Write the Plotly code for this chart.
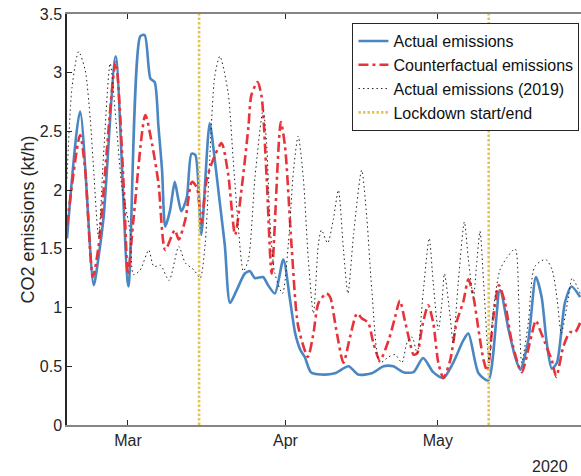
import plotly.graph_objects as go

# ---- data ----
actual_dates = [
    "2020-02-18 00:00", "2020-02-20 14:00", "2020-02-23 06:00", "2020-02-24 05:00", "2020-02-25 05:00",
    "2020-02-27 14:00", "2020-03-01 02:00", "2020-03-03 10:00", "2020-03-04 07:00", "2020-03-05 10:00",
    "2020-03-06 06:00", "2020-03-07 00:00", "2020-03-07 17:00", "2020-03-08 08:00", "2020-03-09 07:00",
    "2020-03-10 05:00", "2020-03-10 20:00", "2020-03-11 12:00", "2020-03-12 14:00", "2020-03-13 12:00",
    "2020-03-14 06:00", "2020-03-15 10:00", "2020-03-17 02:00", "2020-03-18 02:00", "2020-03-19 02:00",
    "2020-03-20 02:00", "2020-03-21 02:00", "2020-03-22 10:00", "2020-03-24 00:00", "2020-03-25 00:00",
    "2020-03-26 00:00", "2020-03-27 14:00", "2020-03-28 14:00", "2020-03-29 22:00", "2020-03-31 14:00",
    "2020-04-01 22:00", "2020-04-02 22:00", "2020-04-03 22:00", "2020-04-04 19:00", "2020-04-06 00:00",
    "2020-04-08 00:00", "2020-04-10 17:00", "2020-04-13 10:00", "2020-04-15 07:00", "2020-04-18 00:00",
    "2020-04-20 07:00", "2020-04-22 05:00", "2020-04-24 05:00", "2020-04-26 05:00", "2020-04-28 02:00",
    "2020-04-30 02:00", "2020-05-02 02:00", "2020-05-04 00:00", "2020-05-06 00:00", "2020-05-07 00:00",
    "2020-05-09 00:00", "2020-05-10 22:00", "2020-05-13 05:00", "2020-05-14 22:00", "2020-05-16 05:00",
    "2020-05-17 05:00", "2020-05-18 19:00", "2020-05-20 07:00", "2020-05-21 10:00", "2020-05-22 10:00",
    "2020-05-23 10:00", "2020-05-24 10:00", "2020-05-26 00:00", "2020-05-27 07:00", "2020-05-29 00:00",
]
actual_values = [
    1.59, 2.67, 1.19, 1.43, 1.77,
    3.14, 1.18, 3.31, 3.32, 2.95,
    2.92, 2.54, 2.17, 1.69, 1.83,
    2.07, 1.94, 1.82, 1.94, 2.31,
    2.30, 1.62, 2.57, 2.26, 1.89,
    1.52, 1.04, 1.15, 1.29, 1.31,
    1.25, 1.26, 1.19, 1.12, 1.41,
    1.06, 0.78, 0.64, 0.58, 0.45,
    0.43, 0.44, 0.50, 0.43, 0.44,
    0.50, 0.50, 0.45, 0.45, 0.57,
    0.45, 0.40, 0.53, 0.72, 0.78,
    0.44, 0.38, 1.15, 0.81, 0.58,
    0.47, 0.72, 1.26, 1.09, 0.70,
    0.48, 0.53, 1.04, 1.18, 1.09,
]

counter_dates = [
    "2020-02-18 00:00", "2020-02-20 14:00", "2020-02-21 14:00", "2020-02-23 02:00", "2020-02-24 05:00",
    "2020-02-27 14:00", "2020-02-29 04:00", "2020-03-01 00:00", "2020-03-02 02:00", "2020-03-04 10:00",
    "2020-03-05 17:00", "2020-03-07 00:00", "2020-03-08 08:00", "2020-03-10 05:00", "2020-03-11 00:00",
    "2020-03-12 07:00", "2020-03-13 14:00", "2020-03-14 14:00", "2020-03-15 10:00", "2020-03-16 12:00",
    "2020-03-17 12:00", "2020-03-19 10:00", "2020-03-20 17:00", "2020-03-22 02:00", "2020-03-23 10:00",
    "2020-03-24 17:00", "2020-03-25 07:00", "2020-03-26 12:00", "2020-03-27 07:00", "2020-03-28 07:00",
    "2020-03-29 07:00", "2020-03-31 02:00", "2020-03-31 22:00", "2020-04-02 05:00", "2020-04-03 12:00",
    "2020-04-05 10:00", "2020-04-06 12:00", "2020-04-07 12:00", "2020-04-09 02:00", "2020-04-09 19:00",
    "2020-04-11 00:00", "2020-04-12 10:00", "2020-04-13 17:00", "2020-04-15 02:00", "2020-04-16 00:00",
    "2020-04-17 07:00", "2020-04-18 07:00", "2020-04-19 14:00", "2020-04-21 07:00", "2020-04-22 14:00",
    "2020-04-23 12:00", "2020-04-24 12:00", "2020-04-25 12:00", "2020-04-26 05:00", "2020-04-26 22:00",
    "2020-04-27 22:00", "2020-04-29 02:00", "2020-04-30 02:00", "2020-05-01 02:00", "2020-05-02 02:00",
    "2020-05-03 10:00", "2020-05-04 17:00", "2020-05-06 00:00", "2020-05-07 00:00", "2020-05-08 00:00",
    "2020-05-09 00:00", "2020-05-10 00:00", "2020-05-10 17:00", "2020-05-11 22:00", "2020-05-13 00:00",
    "2020-05-14 05:00", "2020-05-15 12:00", "2020-05-17 12:00", "2020-05-19 02:00", "2020-05-20 07:00",
    "2020-05-21 02:00", "2020-05-22 02:00", "2020-05-23 10:00", "2020-05-24 07:00", "2020-05-25 17:00",
    "2020-05-27 00:00", "2020-05-28 00:00", "2020-05-29 00:00",
]
counter_values = [
    1.70, 2.47, 2.17, 1.26, 1.52,
    3.09, 2.03, 1.28, 1.75, 2.64,
    2.40, 2.06, 1.49, 1.66, 1.58,
    1.75, 2.07, 2.02, 1.72, 2.09,
    2.23, 2.40, 2.14, 1.62, 2.03,
    2.54, 2.81, 2.92, 2.80, 2.11,
    1.29, 2.58, 2.37, 1.52, 0.84,
    0.58, 0.78, 1.04, 1.12, 1.09,
    0.81, 0.53, 0.75, 0.95, 0.91,
    0.87, 0.70, 0.55, 0.72, 0.92,
    1.06, 0.89, 0.70, 0.60, 0.61,
    0.84, 1.02, 0.87, 0.53, 0.40,
    0.55, 0.88, 1.05, 1.24, 1.09,
    0.81, 0.55, 0.46, 0.92, 1.19,
    1.04, 0.72, 0.45, 0.70, 0.89,
    0.81, 0.70, 0.55, 0.41, 0.67,
    0.79, 0.79, 0.87,
]

y2019_dates = [
    "2020-02-18 00:00", "2020-02-19 00:00", "2020-02-20 07:00", "2020-02-21 14:00", "2020-02-22 14:00",
    "2020-02-23 06:00", "2020-02-24 05:00", "2020-02-25 05:00", "2020-02-26 12:00", "2020-02-27 19:00",
    "2020-02-28 19:00", "2020-02-29 19:00", "2020-03-01 11:00", "2020-03-02 02:00", "2020-03-03 10:00",
    "2020-03-05 02:00", "2020-03-06 02:00", "2020-03-07 10:00", "2020-03-09 02:00", "2020-03-11 00:00",
    "2020-03-12 07:00", "2020-03-14 00:00", "2020-03-15 05:00", "2020-03-16 05:00", "2020-03-17 02:00",
    "2020-03-18 02:00", "2020-03-19 02:00", "2020-03-20 17:00", "2020-03-21 17:00", "2020-03-22 17:00",
    "2020-03-23 17:00", "2020-03-24 17:00", "2020-03-26 00:00", "2020-03-27 14:00", "2020-03-28 07:00",
    "2020-03-29 00:00", "2020-03-29 22:00", "2020-03-31 10:00", "2020-04-01 14:00", "2020-04-02 14:00",
    "2020-04-03 12:00", "2020-04-04 12:00", "2020-04-05 12:00", "2020-04-06 12:00", "2020-04-07 12:00",
    "2020-04-08 02:00", "2020-04-09 07:00", "2020-04-10 10:00", "2020-04-11 10:00", "2020-04-12 10:00",
    "2020-04-13 07:00", "2020-04-14 10:00", "2020-04-16 00:00", "2020-04-17 00:00", "2020-04-18 00:00",
    "2020-04-19 14:00", "2020-04-21 07:00", "2020-04-22 14:00", "2020-04-23 22:00", "2020-04-24 22:00",
    "2020-04-25 22:00", "2020-04-26 22:00", "2020-04-28 02:00", "2020-04-29 07:00", "2020-04-30 02:00",
    "2020-05-01 02:00", "2020-05-01 19:00", "2020-05-02 07:00", "2020-05-03 10:00", "2020-05-04 00:00",
    "2020-05-05 00:00", "2020-05-06 05:00", "2020-05-07 00:00", "2020-05-08 00:00", "2020-05-08 14:00",
    "2020-05-09 07:00", "2020-05-10 00:00", "2020-05-10 17:00", "2020-05-11 02:00", "2020-05-11 22:00",
    "2020-05-13 05:00", "2020-05-14 12:00", "2020-05-16 05:00", "2020-05-16 22:00", "2020-05-17 12:00",
    "2020-05-18 19:00", "2020-05-20 02:00", "2020-05-22 05:00", "2020-05-23 12:00", "2020-05-24 12:00",
    "2020-05-25 07:00", "2020-05-26 14:00", "2020-05-27 10:00", "2020-05-29 00:00",
]
y2019_values = [
    2.10, 2.88, 3.18, 3.02, 2.60,
    2.17, 1.60, 2.31, 3.08, 2.51,
    2.03, 1.80, 1.63, 1.28, 1.32,
    1.49, 1.35, 1.36, 1.23, 1.52,
    1.38, 1.32, 1.25, 1.55, 2.26,
    2.97, 3.14, 2.83, 2.26, 1.69,
    1.31, 1.41, 2.11, 2.68, 2.40,
    1.69, 1.29, 1.12, 1.55, 2.17,
    2.46, 2.11, 1.41, 0.95, 1.55,
    1.66, 1.55, 1.75, 2.00, 1.49,
    1.12, 1.63, 2.17, 1.77, 1.15,
    0.53, 0.58, 0.60, 0.53, 0.70,
    0.75, 0.61, 1.12, 1.59, 1.21,
    0.81, 1.04, 1.29, 0.92, 0.70,
    1.21, 1.73, 1.41, 1.09, 1.35,
    1.65, 1.21, 0.70, 0.53, 0.98,
    1.32, 1.42, 1.50, 1.06, 0.53,
    0.87, 1.35, 1.41, 1.32, 1.06,
    0.78, 1.06, 1.25, 1.12,
]

lockdown_dates = ["2020-03-15", "2020-05-11"]

x_tick_dates = ["2020-03-01", "2020-04-01", "2020-05-01"]
x_tick_labels = ["Mar", "Apr", "May"]
y_tick_values = [0, 0.5, 1, 1.5, 2, 2.5, 3, 3.5]
y_tick_labels = ["0", "0.5", "1", "1.5", "2", "2.5", "3", "3.5"]
x_range = ["2020-02-18 00:00", "2020-05-29 04:00"]
y_range = [0, 3.5]

FONT = "Liberation Sans, Arial, Helvetica, sans-serif"
TXT = "#262626"

fig = go.Figure()
fig.add_trace(go.Scatter(
    x=actual_dates, y=actual_values, mode="lines", name="Actual emissions",
    line=dict(color="#4A87C2", width=2.6, shape="spline", smoothing=0.7),
))
fig.add_trace(go.Scatter(
    x=counter_dates, y=counter_values, mode="lines", name="Counterfactual emissions",
    line=dict(color="#E8333A", width=2.6, dash="10px,4px,3px,4px", shape="spline", smoothing=0.7),
))
fig.add_trace(go.Scatter(
    x=y2019_dates, y=y2019_values, mode="lines", name="Actual emissions (2019)",
    line=dict(color="#222222", width=1, dash="1.5px,3px", shape="spline", smoothing=0.7),
))

# lockdown lines built from the dates, spanning the y range
lx, ly = [], []
for d in lockdown_dates:
    lx += [d, d, None]
    ly += [y_range[0], y_range[1], None]
fig.add_trace(go.Scatter(
    x=lx, y=ly, mode="lines", name="Lockdown start/end",
    line=dict(color="#E3C555", width=2.6, dash="2.5px,2px"),
))

fig.update_layout(
    width=581, height=476,
    margin=dict(l=67, r=0, t=14, b=51, autoexpand=False),
    paper_bgcolor="white", plot_bgcolor="white",
    font=dict(family=FONT, size=16, color=TXT),
    showlegend=True,
    legend=dict(
        x=0.997, y=0.978, xanchor="right", yanchor="top",
        bgcolor="white", bordercolor=TXT, borderwidth=1,
        font=dict(family=FONT, size=16, color="#111111"),
        tracegroupgap=0, itemwidth=30,
    ),
    annotations=[dict(
        text="2020", xref="paper", yref="paper", x=0.94, y=-0.1,
        xanchor="center", yanchor="middle", showarrow=False,
        font=dict(family=FONT, size=16, color=TXT),
    )],
)
fig.update_xaxes(
    type="date", range=x_range, automargin=False,
    tickvals=x_tick_dates, ticktext=x_tick_labels,
    ticks="inside", ticklen=5, tickcolor=TXT, tickwidth=1,
    showline=True, linecolor="#858585", linewidth=2, mirror="ticks",
    showgrid=False, zeroline=False,
    tickfont=dict(family=FONT, size=16, color=TXT),
)
fig.update_yaxes(
    range=y_range, tickvals=y_tick_values, ticktext=y_tick_labels, automargin=False,
    ticks="inside", ticklen=5, tickcolor=TXT, tickwidth=1,
    showline=True, linecolor=TXT, linewidth=1.5, mirror=False,
    showgrid=False, zeroline=False,
    tickfont=dict(family=FONT, size=16, color=TXT),
    title=dict(text="CO2 emissions (kt/h)", font=dict(family=FONT, size=18, color=TXT), standoff=0),
)

fig.write_html(
    "out.html",
    config={"displayModeBar": False},
    post_script="document.body.style.margin='0';document.body.style.overflow='hidden';",
)
